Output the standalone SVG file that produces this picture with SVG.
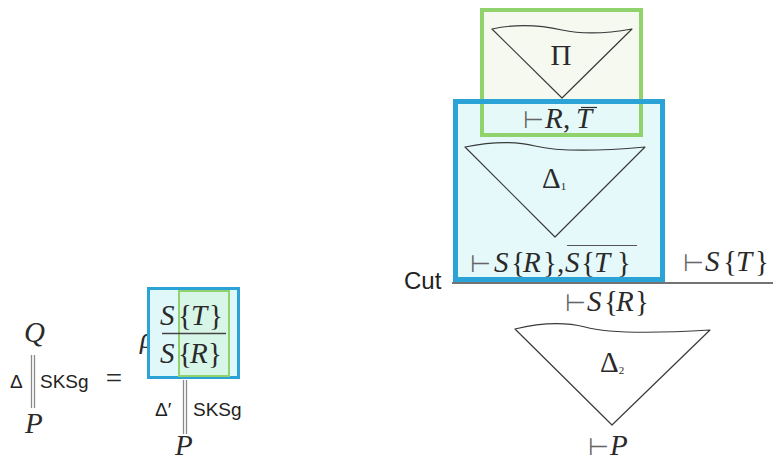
<svg xmlns="http://www.w3.org/2000/svg" width="773" height="461" viewBox="0 0 773 461">
<style>
.m{font-family:"Liberation Serif",serif;font-size:29px;fill:#2a2a2a}
.i{font-style:italic}
.t{font-family:"DejaVu Sans",sans-serif;font-size:24px;fill:#666}
.s{font-family:"Liberation Sans",sans-serif;fill:#222}
.tri{fill:none;stroke:#3a3a3a;stroke-width:1.2;stroke-linejoin:round}
.dbl{stroke:#8a8a8a;stroke-width:1.3}
.rule{stroke:#444;stroke-width:1.3}
.bbox{stroke:#2ba3d6;fill:none}
.gbox{stroke:#90d26c;fill:none}
</style>
<rect width="773" height="461" fill="#fff"/>

<g id="left-derivation">
  <text class="m i" x="24" y="342">Q</text>
  <text class="s" x="10" y="388" font-size="19">Δ</text>
  <text class="s" x="40" y="388" font-size="19">SKSg</text>
  <text class="m i" x="25" y="433">P</text>
</g>
<g id="equals">
  <text class="m" x="114" y="388" text-anchor="middle" font-size="28">=</text>
</g>
<g id="rho-rule">
  <text class="m i" x="140" y="348" font-size="25">ρ</text>
  <rect x="148.5" y="288.5" width="90" height="89" fill="#e1f8fb"/>
  <rect x="179" y="291" width="50" height="85" fill="#d8f6e8"/>
  <rect class="bbox" x="148.5" y="288.5" width="90" height="89" stroke-width="3"/>
  <rect class="gbox" x="179" y="291" width="50" height="85" stroke-width="2"/>
  <text class="m"><tspan class="i" x="160" y="325">S</tspan><tspan x="178" y="325">{</tspan><tspan class="i" x="191" y="325">T</tspan><tspan x="209" y="325">}</tspan></text>
  <text class="m"><tspan class="i" x="160" y="363">S</tspan><tspan x="178" y="363">{</tspan><tspan class="i" x="190" y="363">R</tspan><tspan x="208" y="363">}</tspan></text>
</g>
<g id="right-derivation">
  <text class="s" x="155" y="416" font-size="19">Δ′</text>
  <text class="s" x="193" y="416" font-size="19">SKSg</text>
  <text class="m i" x="175" y="455" font-size="28">P</text>
</g>

<g id="pi-box">
  <rect x="482" y="10" width="159" height="125" fill="#f6f9ef"/>
</g>
<g id="delta1-box">
  <rect x="455.5" y="101.5" width="207" height="178" fill="#e3f9fa" fill-opacity="0.93"/>
  <rect class="gbox" x="482" y="10" width="159" height="125" stroke-width="4"/>
  <rect class="bbox" x="455.5" y="101.5" width="207" height="178" stroke-width="5"/>
</g>
<g id="pi">
  <path class="tri" d="M492,29 C515,24 540,25 562,30 C585,35 610,33 632,29 L562,98 Z"/>
  <text class="m" x="561" y="65" font-size="14" text-anchor="middle">Π</text>
</g>
<g id="conclusion-pi">
  <text class="t" x="523" y="128">⊢</text>
  <text class="m"><tspan class="i" x="545" y="128">R</tspan><tspan x="563" y="128">,</tspan><tspan class="i" x="576" y="128">T</tspan></text>
  <line x1="581" y1="107.5" x2="597" y2="107.5" stroke="#2a2a2a" stroke-width="1.2"/>
</g>
<g id="delta1">
  <path class="tri" d="M465,147 C490,142 515,141 535,146 C560,152 600,151 645,147 L555,237 Z"/>
  <text class="m" x="542" y="188" font-size="16">Δ<tspan font-size="11" dy="2">1</tspan></text>
</g>
<g id="premise-left">
  <text class="t" x="470" y="272">⊢</text>
  <text class="m"><tspan class="i" x="494" y="272">S</tspan><tspan x="511" y="272">{</tspan><tspan class="i" x="523" y="272">R</tspan><tspan x="543" y="272">}</tspan><tspan x="557" y="272">,</tspan><tspan class="i" x="565" y="272">S</tspan><tspan x="581" y="272">{</tspan><tspan class="i" x="594" y="272">T</tspan><tspan x="617" y="272">}</tspan></text>
  <line x1="567" y1="245.5" x2="637" y2="245.5" stroke="#555" stroke-width="1.2"/>
</g>
<g id="premise-right">
  <text class="t" x="683" y="271">⊢</text>
  <text class="m"><tspan class="i" x="705" y="271">S</tspan><tspan x="723" y="271">{</tspan><tspan class="i" x="736" y="271">T</tspan><tspan x="755" y="271">}</tspan></text>
</g>
<g id="cut-label">
  <text class="s" x="404" y="289" font-size="24">Cut</text>
</g>
<g id="cut-conclusion">
  <text class="t" x="565" y="311">⊢</text>
  <text class="m"><tspan class="i" x="587" y="311">S</tspan><tspan x="604" y="311">{</tspan><tspan class="i" x="616" y="311">R</tspan><tspan x="635" y="311">}</tspan></text>
</g>
<g id="delta2">
  <path class="tri" d="M515,329 C540,323 565,322 585,327 C610,334 660,333 710,330 L612,425 Z"/>
  <text class="m" x="600" y="372" font-size="16">Δ<tspan font-size="11" dy="2">2</tspan></text>
</g>
<g id="end-sequent">
  <text class="t" x="588" y="455">⊢</text>
  <text class="m i" x="610" y="455">P</text>
</g>

<g id="connectors">
  <line class="dbl" x1="31.5" y1="355" x2="31.5" y2="408"/>
  <line class="dbl" x1="34.5" y1="355" x2="34.5" y2="408"/>
  <line class="dbl" x1="183.5" y1="380" x2="183.5" y2="434"/>
  <line class="dbl" x1="186.5" y1="380" x2="186.5" y2="434"/>
  <line class="rule" x1="452" y1="283" x2="773" y2="283"/>
  <line class="rule" x1="162" y1="333.5" x2="226" y2="333.5" stroke-width="1"/>
</g>
</svg>
